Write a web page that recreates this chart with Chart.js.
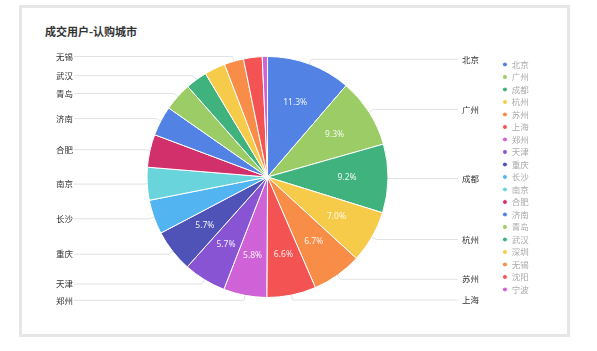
<!DOCTYPE html>
<html>
<head>
<meta charset="utf-8">
<script src="https://cdn.jsdelivr.net/npm/chart.js@4"></script>
<style>
  body { margin: 0; background: #fff; width: 597px; height: 351px; position: relative; overflow: hidden; }
  .card { position: absolute; left: 19px; top: 5px; width: 551px; height: 332px; box-sizing: border-box; border: 3px solid #e6e6e6; background: #fff; }
  .title { position: absolute; left: 45px; top: 26px; font: 600 11px "Noto Sans CJK SC", sans-serif; color: #333; line-height: 1; }
  #cityChart { position: absolute; left: 20px; top: 45px; }
</style>
</head>
<body>
<div class="card"></div>
<div class="title">成交用户-认购城市</div>
<canvas id="cityChart" width="547" height="265"></canvas>
<script>
const cities = ['北京', '广州', '成都', '杭州', '苏州', '上海', '郑州', '天津', '重庆', '长沙',
                '南京', '合肥', '济南', '青岛', '武汉', '深圳', '无锡', '沈阳', '宁波'];
const shares = [11.3, 9.3, 9.2, 7.0, 6.7, 6.6, 5.8, 5.7, 5.7, 4.6,
                4.4, 4.4, 4.0, 3.8, 2.9, 2.8, 2.6, 2.5, 0.7];
const palette = ['#5182E4', '#9BCC66', '#3FB27E', '#F7CB4A', '#F88D48', '#F35352',
                 '#CE62D6', '#8954D4', '#4F53B8', '#52B4F1', '#69D4DB', '#D2306A'];

const cjk = '"Noto Sans CJK SC", sans-serif';

// labels outside the pie with leader lines, plus percentages inside the big slices
const outsideLabels = {
    id: 'outsideLabels',
    afterDatasetsDraw(chart) {
        const ctx = chart.ctx;
        const arcs = chart.getDatasetMeta(0).data;
        const minGap = 14;
        let lastLeft = null, lastRight = null;
        ctx.save();
        arcs.forEach((arc, i) => {
            const {x, y, startAngle, endAngle, outerRadius} =
                arc.getProps(['x', 'y', 'startAngle', 'endAngle', 'outerRadius'], true);
            const mid = (startAngle + endAngle) / 2;
            const cos = Math.cos(mid), sin = Math.sin(mid);

            if (shares[i] >= 5) {
                ctx.font = '8.5px "Noto Sans", sans-serif';
                ctx.fillStyle = 'rgba(255,255,255,0.9)';
                ctx.textAlign = 'center';
                ctx.textBaseline = 'middle';
                ctx.fillText(shares[i].toFixed(1) + '%', x + cos * outerRadius * 0.66, y + sin * outerRadius * 0.66);
            }

            const ex = x + cos * outerRadius, ey = y + sin * outerRadius;
            const kx = x + cos * (outerRadius + 5), ky = y + sin * (outerRadius + 5);
            const right = cos >= 0;
            if (right) {
                if (lastRight !== null && Math.abs(ky - lastRight) < minGap) return;
                lastRight = ky;
            } else {
                if (lastLeft !== null && Math.abs(ky - lastLeft) < minGap) return;
                lastLeft = ky;
            }
            // canvas is offset 20px from the page
            const lineEnd = right ? 458 - 20 : 74 - 20;
            ctx.strokeStyle = '#e2e2e2';
            ctx.lineWidth = 1;
            ctx.beginPath();
            ctx.moveTo(ex, ey);
            ctx.lineTo(kx, ky);
            ctx.lineTo(lineEnd, ky);
            ctx.stroke();

            ctx.font = '8.5px ' + cjk;
            ctx.textBaseline = 'middle';
            ctx.textAlign = 'left';
            ctx.fillStyle = '#333';
            ctx.fillText(cities[i], right ? 462 - 20 : 56 - 20, ky);
        });
        ctx.restore();
    }
};

new Chart(document.getElementById('cityChart'), {
    type: 'pie',
    data: {
        labels: cities,
        datasets: [{
            data: shares,
            backgroundColor: cities.map((c, i) => palette[i % palette.length]),
            borderColor: '#fff',
            borderWidth: 1
        }]
    },
    options: {
        responsive: false,
        animation: false,
        events: [],
        layout: { padding: { left: 16.6, right: 28.3, top: 11, bottom: 12 } },
        plugins: {
            legend: {
                position: 'right',
                labels: {
                    usePointStyle: true,
                    pointStyle: 'circle',
                    boxWidth: 5,
                    boxHeight: 3.5,
                    padding: 4,
                    color: '#aaa',
                    font: { size: 8.5, family: cjk }
                }
            },
            tooltip: { enabled: false }
        }
    },
    plugins: [outsideLabels]
});
</script>
</body>
</html>
